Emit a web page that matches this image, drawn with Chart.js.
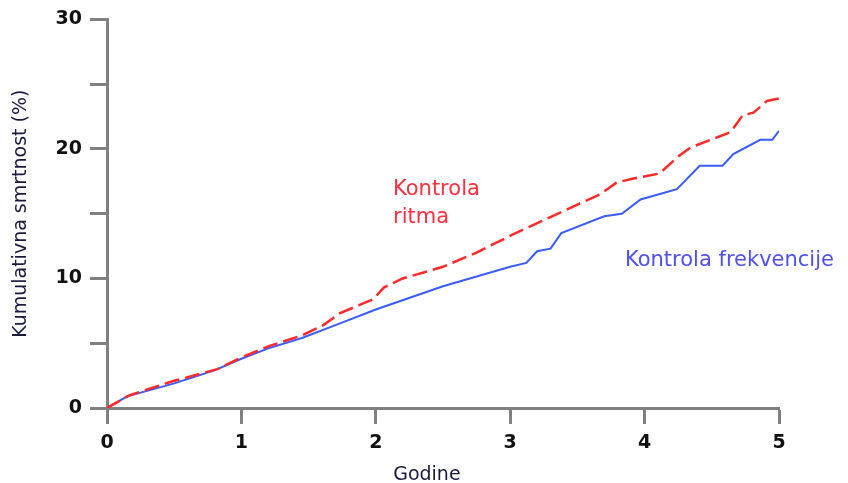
<!DOCTYPE html>
<html>
<head>
<meta charset="utf-8">
<script src="https://cdn.jsdelivr.net/npm/chart.js@4.4.1/dist/chart.umd.min.js"></script>
<style>
  html, body { margin: 0; padding: 0; background: #fff; }
  #wrap { width: 848px; height: 483px; }
</style>
</head>
<body>
<div id="wrap"><canvas id="grafico" width="848" height="483"></canvas></div>
<script>
// Kontrola ritma (crvena, isprekidana)
const ritmaGodine = [0, 0.17, 0.5, 0.82, 1.0, 1.21, 1.45, 1.61, 1.73, 1.98, 2.06, 2.2, 2.5, 2.75, 3.02, 3.25, 3.52, 3.67, 3.79, 3.91, 4.11, 4.26, 4.34, 4.64, 4.73, 4.81, 4.91, 5.0];
const ritmaSmrtnost = [0, 1.0, 2.1, 3.0, 3.9, 4.8, 5.6, 6.4, 7.3, 8.4, 9.3, 10.0, 10.9, 12.0, 13.4, 14.5, 15.8, 16.5, 17.4, 17.7, 18.1, 19.5, 20.1, 21.3, 22.6, 22.8, 23.7, 23.9];

// Kontrola frekvencije (plava, puna)
const frekGodine = [0, 0.15, 0.5, 0.8, 1.0, 1.2, 1.45, 1.7, 2.0, 2.5, 3.0, 3.12, 3.2, 3.3, 3.38, 3.7, 3.83, 3.97, 4.24, 4.41, 4.58, 4.66, 4.86, 4.95, 5.0];
const frekSmrtnost = [0, 0.9, 1.9, 2.9, 3.8, 4.6, 5.4, 6.4, 7.6, 9.4, 10.9, 11.2, 12.1, 12.3, 13.5, 14.8, 15.0, 16.1, 16.9, 18.7, 18.7, 19.6, 20.7, 20.7, 21.4];

const xTicks = [0, 1, 2, 3, 4, 5];
const yTicks = [0, 10, 20, 30];

// natpisi uz krivulje (x, y u jedinicama podataka)
const natpisi = [
  { tekst: 'Kontrola', x: 2.128, y: 16.45, boja: '#ff3040' },
  { tekst: 'ritma', x: 2.128, y: 14.3, boja: '#ff3040' },
  { tekst: 'Kontrola frekvencije', x: 3.854, y: 10.94, boja: '#5050f0' }
];

const sivo = '#808080';

const natpisiPlugin = {
  id: 'natpisi',
  afterDatasetsDraw(chart) {
    const ctx = chart.ctx;
    const xs = chart.scales.x, ys = chart.scales.y;
    ctx.save();
    ctx.font = '21px "DejaVu Sans"';
    ctx.textAlign = 'left';
    ctx.textBaseline = 'alphabetic';
    natpisi.forEach(n => {
      ctx.fillStyle = n.boja;
      ctx.fillText(n.tekst, xs.getPixelForValue(n.x), ys.getPixelForValue(n.y));
    });
    // naslov x osi (malo lijevo od sredine, kao u originalu)
    ctx.font = '19px "DejaVu Sans"';
    ctx.fillStyle = '#1a1a40';
    ctx.textAlign = 'center';
    ctx.fillText('Godine', xs.getPixelForValue(2.38), 480);
    ctx.restore();
  }
};

const ctx = document.getElementById('grafico').getContext('2d');
new Chart(ctx, {
  type: 'scatter',
  data: {
    datasets: [
      {
        label: 'Kontrola ritma',
        data: ritmaGodine.map((g, i) => ({ x: g, y: ritmaSmrtnost[i] })),
        showLine: true,
        borderColor: '#ff2a2a',
        borderWidth: 2.5,
        borderDash: [15, 6],
        pointRadius: 0,
        tension: 0
      },
      {
        label: 'Kontrola frekvencije',
        data: frekGodine.map((g, i) => ({ x: g, y: frekSmrtnost[i] })),
        showLine: true,
        borderColor: '#3a5cff',
        borderWidth: 2,
        pointRadius: 0,
        tension: 0
      }
    ]
  },
  options: {
    responsive: false,
    animation: false,
    layout: { padding: { left: 0, right: 69, top: 16, bottom: 0 } },
    plugins: { legend: { display: false }, tooltip: { enabled: false } },
    scales: {
      x: {
        type: 'linear',
        min: 0, max: 5,
        afterFit(s) { s.height = 75; },
        afterBuildTicks(s) { s.ticks = xTicks.map(v => ({ value: v })); },
        border: { color: sivo, width: 3 },
        grid: { drawOnChartArea: false, drawTicks: true, tickLength: 16, tickColor: sivo, tickWidth: 3 },
        ticks: { color: '#111', font: { family: 'DejaVu Sans', size: 19, weight: 'bold' }, padding: 8, maxRotation: 0 },
        title: { display: false }
      },
      y: {
        min: 0, max: 30,
        afterFit(s) { s.width = 107; },
        border: { color: sivo, width: 3 },
        grid: { drawOnChartArea: false, drawTicks: true, tickLength: 17, tickColor: sivo, tickWidth: 3 },
        ticks: {
          stepSize: 5,
          color: '#111',
          font: { family: 'DejaVu Sans', size: 19, weight: 'bold' },
          padding: 8,
          callback: v => (yTicks.includes(v) ? String(v) : '')
        },
        title: { display: true, text: 'Kumulativna smrtnost (%)', color: '#1a1a40', font: { family: 'DejaVu Sans', size: 19 }, padding: { top: 10, bottom: 0 } }
      }
    }
  },
  plugins: [natpisiPlugin]
});
</script>
</body>
</html>
